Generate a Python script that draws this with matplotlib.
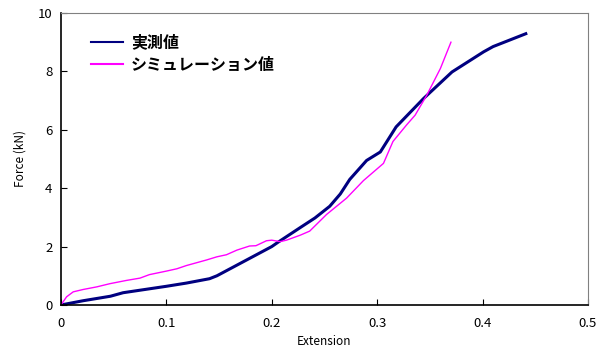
import matplotlib
matplotlib.use("Agg")
import matplotlib.pyplot as plt

plt.rcParams['font.family'] = ['Noto Sans CJK JP', 'DejaVu Sans']

# measured curve
meas_x = [0.0, 0.021, 0.047, 0.059, 0.1, 0.119, 0.141, 0.148, 0.2, 0.206, 0.227,
          0.241, 0.255, 0.265, 0.274, 0.29, 0.303, 0.318, 0.344, 0.371, 0.401, 0.41, 0.441]
meas_y = [0.0, 0.145, 0.30, 0.42, 0.64, 0.75, 0.9, 1.0, 2.0, 2.15, 2.65,
          2.98, 3.38, 3.8, 4.3, 4.95, 5.24, 6.1, 7.07, 7.98, 8.67, 8.85, 9.29]

# simulation curve
sim_x = [0.0, 0.0054, 0.0117, 0.021, 0.034, 0.0465, 0.062, 0.075, 0.084, 0.1, 0.11,
         0.119, 0.138, 0.148, 0.157, 0.167, 0.179, 0.185, 0.195, 0.2, 0.208, 0.214,
         0.227, 0.236, 0.252, 0.271, 0.287, 0.306, 0.315, 0.328, 0.336, 0.347, 0.36, 0.37]
sim_y = [0.0, 0.28, 0.45, 0.53, 0.62, 0.73, 0.84, 0.92, 1.04, 1.16, 1.24,
         1.35, 1.54, 1.65, 1.72, 1.88, 2.02, 2.03, 2.2, 2.22, 2.17, 2.22,
         2.39, 2.53, 3.1, 3.66, 4.26, 4.85, 5.6, 6.17, 6.5, 7.18, 8.1, 9.0]

fig = plt.figure(figsize=(6.09, 3.56), dpi=100)
ax = fig.add_axes([0.100, 0.1433, 0.8655, 0.8202])

ax.plot(meas_x, meas_y, color='#000080', lw=2.2, label='実測値')
ax.plot(sim_x, sim_y, color='#FF00FF', lw=1.0, label='シミュレーション値')

ax.set_xlim(0, 0.5)
ax.set_ylim(0, 10)
ax.set_xticks([0, 0.1, 0.2, 0.3, 0.4, 0.5])
ax.set_xticklabels(['0', '0.1', '0.2', '0.3', '0.4', '0.5'])
ax.set_yticks([0, 2, 4, 6, 8, 10])
ax.tick_params(direction='in', length=4, labelsize=9.5, pad=6)
ax.tick_params(axis='x', pad=9)

for side in ['top', 'right']:
    ax.spines[side].set_color('#808080')
for side in ['left', 'bottom']:
    ax.spines[side].set_color('black')
    ax.spines[side].set_linewidth(1.2)

ax.set_xlabel('Extension', fontsize=8.5, labelpad=3)
ax.set_ylabel('Force (kN)', fontsize=8.5, labelpad=8)

leg = ax.legend(loc='upper left', bbox_to_anchor=(0.03, 0.975), frameon=False,
                prop={'size': 11.5, 'weight': 'bold'}, handlelength=2.0,
                labelspacing=0.4, handletextpad=0.5)
for h in leg.get_lines():
    h.set_linewidth(1.5)

fig.savefig('out.png', dpi=100)
